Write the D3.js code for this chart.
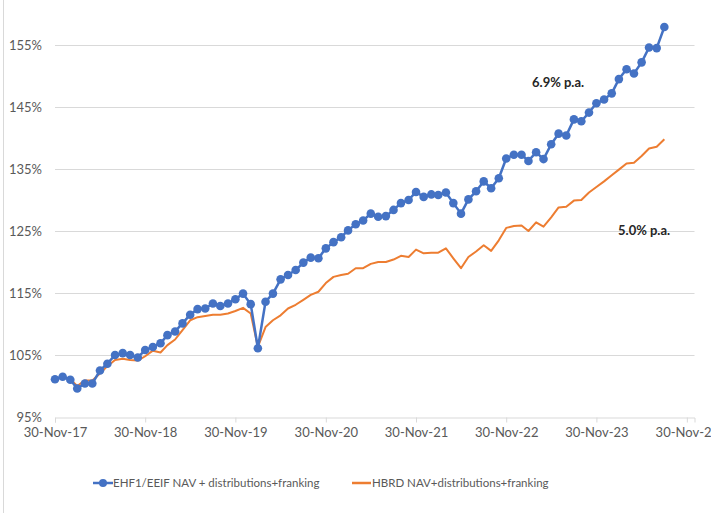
<!DOCTYPE html>
<html>
<head>
<meta charset="utf-8">
<script src="https://cdn.jsdelivr.net/npm/d3@7"></script>
<style>
  body { margin: 0; background: #fff; }
  svg { display: block; font-family: Lato, "Open Sans", sans-serif; }
  .tick-label { fill: #595959; font-size: 13px; }
  .legend-label { fill: #595959; font-size: 11.5px; }
  .note { fill: #262626; font-size: 13px; font-weight: bold; }
</style>
</head>
<body>
<div id="chart"></div>
<script>
// Monthly values (%), first month end 30-Nov-17
const startMonth = new Date(2017, 11, 1);
const ehf1 = [101.1, 101.5, 101.0, 99.6, 100.4, 100.4, 102.5, 103.6, 105.0, 105.3, 105.0, 104.6,
  105.8, 106.3, 106.9, 108.2, 108.8, 110.1, 111.5, 112.4, 112.5, 113.3, 112.9, 113.3,
  114.0, 114.9, 113.2, 106.1, 113.6, 114.9, 117.2, 117.9, 118.7, 119.9, 120.7, 120.6,
  122.2, 123.2, 124.0, 125.1, 126.1, 126.7, 127.8, 127.3, 127.4, 128.4, 129.5, 130.0,
  131.3, 130.5, 130.9, 130.8, 131.2, 129.5, 127.8, 130.1, 131.4, 133.0, 131.9, 133.5,
  136.7, 137.3, 137.3, 136.3, 137.7, 136.6, 139.0, 140.7, 140.4, 143.0, 142.7, 144.1,
  145.6, 146.2, 147.2, 149.5, 151.1, 150.4, 152.2, 154.6, 154.5, 157.9];
const hbrd = [101.1, 101.4, 101.1, 100.0, 100.9, 100.9, 102.0, 103.2, 104.2, 104.4, 104.2, 104.1,
  104.8, 105.7, 105.4, 106.6, 107.5, 109.0, 110.6, 111.1, 111.3, 111.5, 111.5, 111.7,
  112.1, 112.6, 111.7, 106.3, 109.5, 110.6, 111.4, 112.5, 113.1, 113.9, 114.7, 115.2,
  116.6, 117.6, 117.9, 118.1, 119.0, 119.0, 119.7, 120.0, 120.0, 120.4, 121.0, 120.8,
  122.0, 121.4, 121.5, 121.5, 122.2, 120.6, 119.0, 120.8, 121.7, 122.7, 121.8, 123.5,
  125.5, 125.8, 125.9, 125.0, 126.4, 125.7, 127.2, 128.8, 128.9, 129.9, 130.0, 131.2,
  132.1, 133.0, 134.0, 134.9, 135.9, 136.0, 137.1, 138.3, 138.6, 139.8];
const seriesNames = ["EHF1/EEIF NAV + distributions+franking", "HBRD NAV+distributions+franking"];
const yTicks = [95, 105, 115, 125, 135, 145, 155];
const xTickYears = [2017, 2018, 2019, 2020, 2021, 2022, 2023, 2024];
const notes = ["6.9% p.a.", "5.0% p.a."];

// month-end dates
const dates = ehf1.map((v, i) => d3.timeDay.offset(d3.timeMonth.offset(startMonth, i), -1));

const width = 711, height = 513;
const blue = "#4472C4", orange = "#ED7D31";

const svg = d3.select("#chart")
    .append("svg")
    .attr("width", width)
    .attr("height", height);

// Scales (axis runs to 165%, above the visible crop)
const x = d3.scaleTime()
    .domain([new Date(2017, 10, 30), new Date(2024, 11, 31)])
    .range([55, 694.5]);

const y = d3.scaleLinear()
    .domain([95, 165])
    .range([417, 417 - 70 * 6.2]);

// left border of the chart frame
svg.append("line")
    .attr("x1", 3.5).attr("x2", 3.5)
    .attr("y1", 0).attr("y2", height)
    .attr("stroke", "#d9d9d9");

// Gridlines
svg.append("g")
    .selectAll("line")
    .data(yTicks.slice(1))
    .join("line")
    .attr("x1", x.range()[0])
    .attr("x2", x.range()[1])
    .attr("y1", d => Math.round(y(d)) + 0.5)
    .attr("y2", d => Math.round(y(d)) + 0.5)
    .attr("stroke", "#d9d9d9");

// Y axis labels
svg.append("g")
    .selectAll("text")
    .data(yTicks)
    .join("text")
    .attr("class", "tick-label")
    .attr("x", 42)
    .attr("y", d => y(d) + 4.5)
    .attr("text-anchor", "end")
    .text(d => d + "%");

// X axis
const xTicks = xTickYears.map(yr => new Date(yr, 10, 30));
const xAxis = d3.axisBottom(x)
    .tickValues(xTicks)
    .tickSize(5)
    .tickFormat(d3.timeFormat("%d-%b-%y"));

const gx = svg.append("g")
    .attr("transform", `translate(0,${Math.round(y(95)) + 0.5})`)
    .call(xAxis);
gx.select(".domain").attr("stroke", "#d9d9d9");
gx.selectAll(".tick line").attr("stroke", "#d9d9d9");
gx.selectAll(".tick text")
    .attr("class", "tick-label")
    .attr("y", 19)
    .attr("dy", 0);
gx.attr("font-family", null).attr("font-size", null);

// Lines
const line = d3.line()
    .x((d, i) => x(dates[i]))
    .y(d => y(d));

svg.append("path")
    .datum(hbrd)
    .attr("fill", "none")
    .attr("stroke", orange)
    .attr("stroke-width", 2)
    .attr("stroke-linejoin", "round")
    .attr("d", line);

svg.append("path")
    .datum(ehf1)
    .attr("fill", "none")
    .attr("stroke", blue)
    .attr("stroke-width", 2.5)
    .attr("stroke-linejoin", "round")
    .attr("d", line);

svg.append("g")
    .selectAll("circle")
    .data(ehf1)
    .join("circle")
    .attr("cx", (d, i) => x(dates[i]))
    .attr("cy", d => y(d))
    .attr("r", 4.3)
    .attr("fill", blue);

// Annotations
svg.append("text")
    .attr("class", "note")
    .attr("x", 532)
    .attr("y", 87)
    .text(notes[0]);

svg.append("text")
    .attr("class", "note")
    .attr("x", 618)
    .attr("y", 235)
    .text(notes[1]);

// Legend
const legend = svg.append("g").attr("transform", "translate(0,483)");

legend.append("line")
    .attr("x1", 93).attr("x2", 113)
    .attr("stroke", blue).attr("stroke-width", 2.5);
legend.append("circle")
    .attr("cx", 103).attr("r", 4).attr("fill", blue);
legend.append("text")
    .attr("class", "legend-label")
    .attr("x", 113).attr("y", 4)
    .text(seriesNames[0]);

legend.append("line")
    .attr("x1", 352).attr("x2", 371)
    .attr("stroke", orange).attr("stroke-width", 2.5);
legend.append("text")
    .attr("class", "legend-label")
    .attr("x", 372).attr("y", 4)
    .text(seriesNames[1]);
</script>
</body>
</html>
